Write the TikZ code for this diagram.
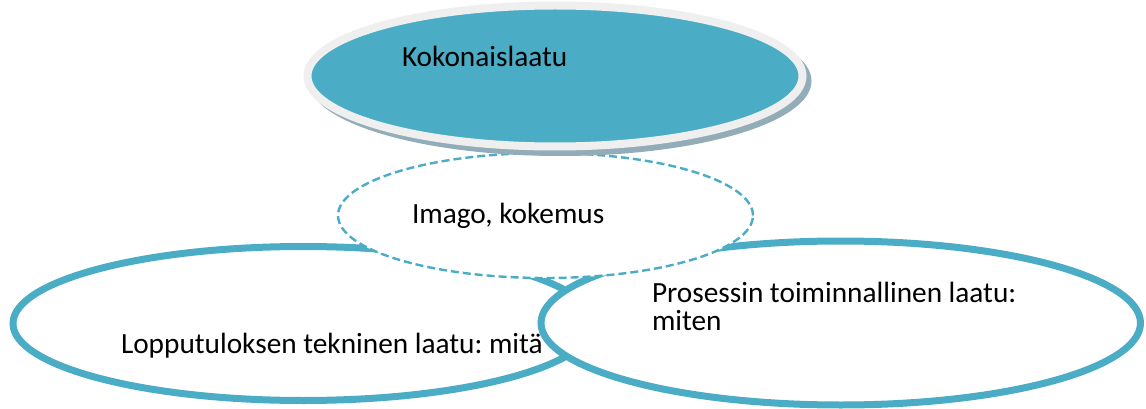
\documentclass[tikz,border=0pt]{standalone}
\usepackage{fontspec}
\setmainfont{Carlito}
\frenchspacing
\usetikzlibrary{shapes.geometric}
\definecolor{accent}{HTML}{4BACC6}
\definecolor{ringgrey}{HTML}{EFEFEF}
\definecolor{shadowgrey}{HTML}{93ADB8}
\begin{document}
\begin{tikzpicture}[x=1pt,y=-1pt,
  oval/.style={ellipse, inner sep=0pt, outer sep=0pt},
  outlined/.style={oval, draw=accent, line width=7pt, fill=white},
  dashedoval/.style={oval, draw=accent, line width=2.4pt, dash pattern=on 8pt off 4pt, fill=white},
  txt/.style={anchor=base west, inner sep=0pt, outer sep=0pt, font=\fontsize{29.3}{28}\selectfont, align=left},
]
\useasboundingbox (0,0) rectangle (1146,409);
% lower pair of overlapping ovals
\node[outlined, minimum width=580.6pt, minimum height=154pt] (tech) at (303.3,323.5) {};
\node[outlined, minimum width=599.5pt, minimum height=164pt] (proc) at (840.75,323) {};
% dashed middle oval
\node[dashedoval, minimum width=415pt, minimum height=125pt] (image) at (545.5,215.5) {};
% top oval with its drop shadow and light rim
\node[oval, fill=shadowgrey, minimum width=503pt, minimum height=150pt] (shadow) at (560,81) {};
\node[oval, fill=accent, draw=ringgrey, line width=8pt, minimum width=495pt, minimum height=141pt] (total) at (555,76) {};
% labels
\node[txt] (totaltext) at (402,67) {Kokonaislaatu};
\node[txt] (imagetext) at (412,223) {Imago, kokemus};
\node[txt] (techtext) at (121,353) {Lopputuloksen tekninen laatu: mitä};
\node[txt] (proctext) at (652,330) {Prosessin toiminnallinen laatu:\\miten};
\end{tikzpicture}
\end{document}
